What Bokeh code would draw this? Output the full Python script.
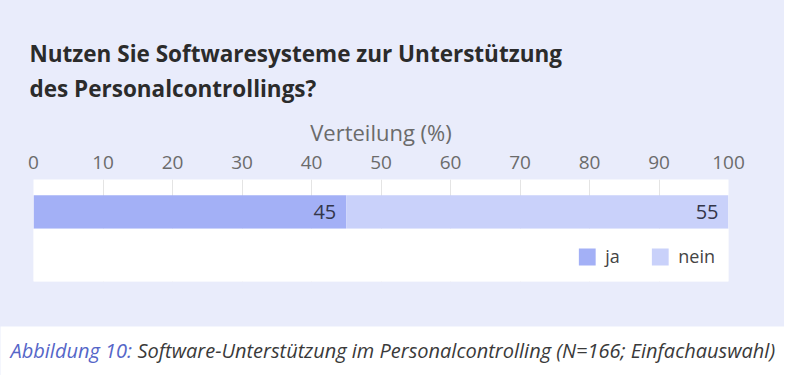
from bokeh.plotting import figure
from bokeh.layouts import column
from bokeh.models import (Range1d, ColumnDataSource, LabelSet, Label, BoxAnnotation)
from bokeh.core.properties import value
from bokeh.embed import file_html
from bokeh.resources import INLINE

# ---- data ----
categories = ["ja", "nein"]
values = [45, 55]
colors = ["#A3B0F6", "#C9D1FA"]
tick_values = [0, 10, 20, 30, 40, 50, 60, 70, 80, 90, 100]

title_line1 = "Nutzen Sie Softwaresysteme zur Unterstützung"
title_line2 = "des Personalcontrollings?"
axis_title = "Verteilung (%)"
caption_prefix = "Abbildung 10:"
caption_text = "Software-Unterstützung im Personalcontrolling (N=166; Einfachauswahl)"

# ---- derived ----
ends = []
acc = 0
for v in values:
    acc += v
    ends.append(acc)
starts = [e - v for e, v in zip(ends, values)]

W = 784
H_TOP, H_MAIN, H_CAP = 110, 216, 49
BG = "#E9ECFB"
BAR_H = 33.5


def no_align(f):
    try:
        f.frame_align = False
    except Exception:
        pass


def text_panel(h, bg):
    f = figure(width=W, height=h, x_range=Range1d(0, W), y_range=Range1d(h, 0),
               x_axis_location=None, y_axis_location=None,
               output_backend="svg", toolbar_location=None,
               min_border=0, min_border_left=0, min_border_right=0,
               min_border_top=0, min_border_bottom=0)
    f.background_fill_color = bg
    f.border_fill_color = bg
    f.outline_line_color = None
    f.grid.visible = False
    no_align(f)
    return f


# ---- title panel ----
top = text_panel(H_TOP, BG)
for txt, yy in [(title_line1, 53.2), (title_line2, 87.8)]:
    top.add_layout(Label(x=29, y=yy, text=txt, text_font="Open Sans",
                         text_font_size="22.5px", text_font_style="bold",
                         text_baseline="middle", text_color="#2B2B2B"))

# ---- main chart ----
src = ColumnDataSource(dict(category=categories, left=starts, right=ends,
                            y=[0] * len(values), color=colors,
                            label=[str(v) for v in values]))

p = figure(width=W, height=H_MAIN, x_range=Range1d(0, 100),
           y_range=Range1d(-69.5, 32.5), x_axis_location="above",
           y_axis_location=None, output_backend="svg", toolbar_location=None,
           min_border_left=33, min_border_right=56, min_border_top=69,
           min_border_bottom=45)
no_align(p)
p.border_fill_color = BG
p.background_fill_color = "white"
p.outline_line_color = None

p.xgrid.ticker = tick_values
p.xgrid.grid_line_color = "#E4E4E4"
p.ygrid.visible = False

ax = p.xaxis[0]
ax.ticker = tick_values
ax.axis_line_color = None
ax.major_tick_line_color = None
ax.minor_tick_line_color = None
ax.major_tick_out = 0
ax.major_tick_in = 0
ax.major_label_standoff = 11
ax.major_label_text_font = "Open Sans"
ax.major_label_text_font_size = "19px"
ax.major_label_text_color = "#6B6B6B"
ax.axis_label = axis_title
ax.axis_label_text_font = "Open Sans"
ax.axis_label_text_font_size = "22px"
ax.axis_label_text_font_style = "normal"
ax.axis_label_text_color = "#6B6B6B"
ax.axis_label_standoff = 6

# white area below the bar (covers grid lines)
p.add_layout(BoxAnnotation(top=-BAR_H / 2, fill_color="white", fill_alpha=1,
                           line_alpha=0, level="glyph"))

p.hbar(y="y", left="left", right="right", height=BAR_H, color="color",
       line_color=None, source=src, legend_field="category")

p.add_layout(LabelSet(x="right", y="y", text="label", source=src, x_offset=-10,
                      text_align="right", text_baseline="middle",
                      text_font=value("Open Sans"), text_font_size="20px",
                      text_color="#33364A"))

lg = p.legend[0]
lg.location = "bottom_right"
lg.orientation = "horizontal"
lg.background_fill_alpha = 0
lg.border_line_alpha = 0
lg.glyph_width = 21
lg.glyph_height = 21
lg.label_text_font = "Open Sans"
lg.label_text_font_size = "18px"
lg.label_text_color = "#444444"
lg.label_standoff = 8
lg.spacing = 24
lg.padding = 0
lg.margin = 13

# ---- caption panel ----
cap = text_panel(H_CAP, "white")
cap_font = "Open Sans"
cap.add_layout(Label(x=10, y=24, text=caption_prefix, text_font=cap_font,
                     text_font_size="20px", text_font_style="italic",
                     text_baseline="middle", text_color="#5566C8"))
cap.add_layout(Label(x=137, y=24, text=caption_text, text_font=cap_font,
                     text_font_size="20px", text_font_style="italic",
                     text_baseline="middle", text_color="#3A3A3A"))

layout = column(top, p, cap, spacing=0, styles={"background-color": BG})
open("out.html", "w").write(file_html(layout, INLINE))
